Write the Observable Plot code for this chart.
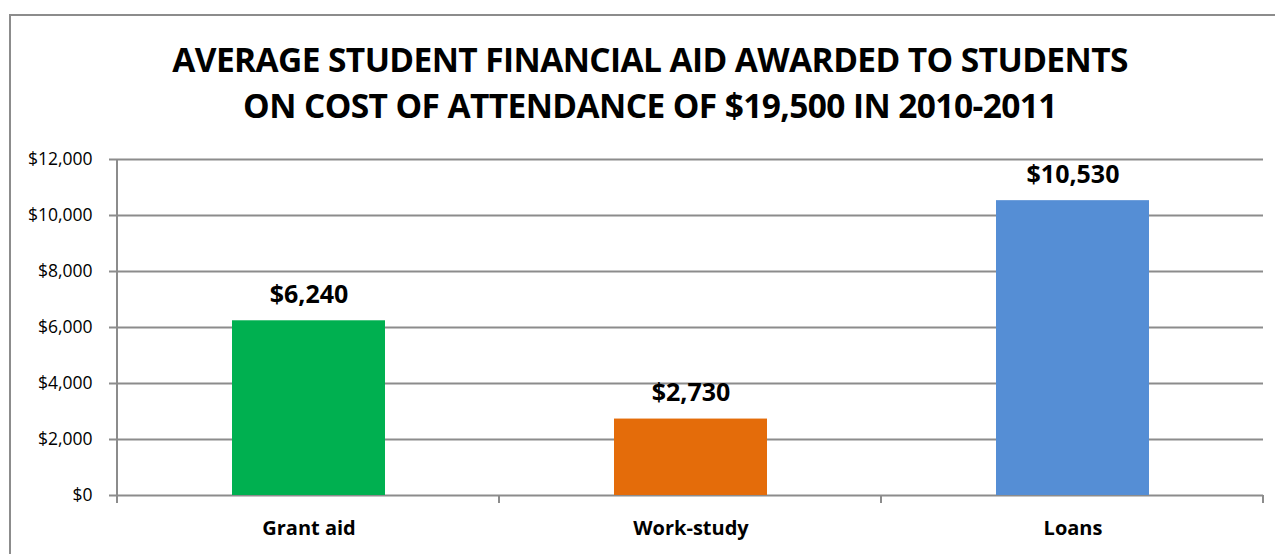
<!DOCTYPE html>
<html>
<head>
<meta charset="utf-8">
<script src="https://cdn.jsdelivr.net/npm/d3@7"></script>
<script src="https://cdn.jsdelivr.net/npm/@observablehq/plot@0.6"></script>
<style>
  html, body { margin: 0; padding: 0; background: #fff; width: 1275px; height: 554px; overflow: hidden; position: relative; font-family: "Open Sans", sans-serif; }
  #frame { position: absolute; left: 9px; top: 14px; width: 1400px; height: 700px; border-left: 2px solid #8c8c8c; border-top: 2px solid #8c8c8c; box-sizing: border-box; z-index: 2; pointer-events: none; }
  #title { position: absolute; left: 0; top: 36px; width: 1300px; text-align: center; font-weight: 700; font-size: 33.5px; line-height: 46px; color: #000; letter-spacing: -0.6px; }
  #chart { position: absolute; left: 0; top: 130px; }
</style>
</head>
<body>
<div id="frame"></div>
<div id="title">AVERAGE STUDENT FINANCIAL AID AWARDED TO STUDENTS<br>ON COST OF ATTENDANCE OF $19,500 IN 2010-2011</div>
<div id="chart"></div>
<script>
const categories = ["Grant aid", "Work-study", "Loans"];
const values = [6240, 2730, 10530];
const colors = ["#00b050", "#e46c0a", "#558ed5"];
const yTicks = [0, 2000, 4000, 6000, 8000, 10000, 12000];

const data = categories.map((c, i) => ({category: c, value: values[i], color: colors[i]}));
const money = d => "$" + d3.format(",")(d);

const W = 1275, H = 424, ML = 117, MR = 12, MT = 29, MB = 59;

function axisLines(index, scales, values, dims) {
  const g = d3.create("svg:g").attr("stroke", "#8c8c8c").attr("stroke-width", 2);
  const x0 = dims.marginLeft, x1 = dims.width - dims.marginRight;
  const yb = dims.height - dims.marginBottom, yt = dims.marginTop;
  g.append("line").attr("x1", x0).attr("x2", x0).attr("y1", yt).attr("y2", yb + 8);
  const step = (x1 - x0) / categories.length;
  for (let i = 1; i <= categories.length; i++) {
    const x = x0 + i * step;
    g.append("line").attr("x1", x).attr("x2", x).attr("y1", yb).attr("y2", yb + 8);
  }
  return g.node();
}

const plot = Plot.plot({
  width: W, height: H,
  marginLeft: ML, marginRight: MR, marginTop: MT, marginBottom: MB,
  style: {fontFamily: "'Open Sans', sans-serif", background: "transparent", color: "#000", overflow: "visible"},
  x: {domain: categories, paddingInner: 0.6, paddingOuter: 0.3, label: null},
  y: {domain: [0, 12000], label: null},
  marks: [
    Plot.ruleY(yTicks, {stroke: "#8c8c8c", strokeWidth: 2, insetLeft: -8}),
    Plot.barY(data, {x: "category", y: "value", fill: "color"}),
    axisLines,
    Plot.axisY({ticks: yTicks, tickFormat: money, tickSize: 0, tickPadding: 25, fontSize: 17.5, label: null}),
    Plot.axisX({tickSize: 0, tickPadding: 25, fontSize: 20, fontWeight: "bold", label: null}),
    Plot.text(data, {x: "category", y: "value", text: d => money(d.value), dy: -26, fontSize: 25, fontWeight: "bold", fill: "#000"})
  ]
});
document.getElementById("chart").appendChild(plot);
</script>
</body>
</html>
